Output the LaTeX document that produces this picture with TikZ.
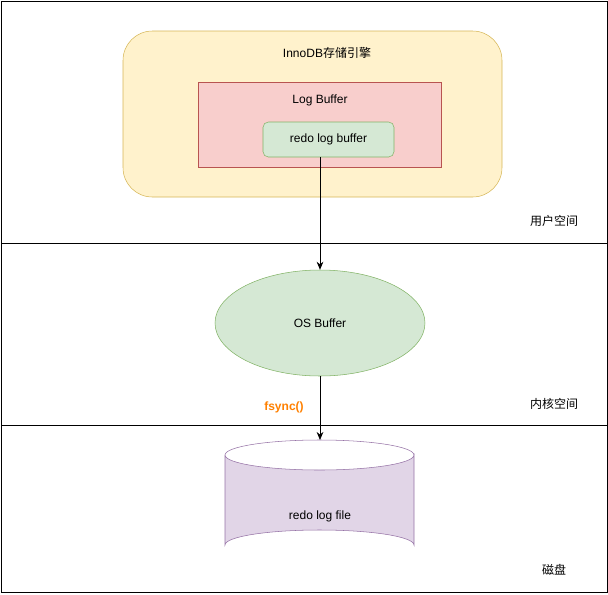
\documentclass[tikz,border=0pt]{standalone}
\usepackage{fontspec}
\setmainfont{Liberation Sans}
\newfontfamily\cjk{Noto Sans CJK SC}
\usetikzlibrary{shapes.geometric,arrows.meta}
\definecolor{yf}{HTML}{FFF2CC}\definecolor{ys}{HTML}{D6B656}
\definecolor{rf}{HTML}{F8CECC}\definecolor{rs}{HTML}{B85450}
\definecolor{gf}{HTML}{D5E8D4}\definecolor{gs}{HTML}{82B366}
\definecolor{pf}{HTML}{E1D5E7}\definecolor{ps}{HTML}{9673A6}
\definecolor{og}{HTML}{FF8000}
\tikzset{lbl/.style={font=\fontsize{9}{11}\selectfont},
arr/.style={-{Stealth[length=6pt,width=5pt]},line width=0.6pt}}
\begin{document}
\begin{tikzpicture}[x=0.75pt,y=-0.75pt]
\useasboundingbox (0,0) rectangle (608,594);
\draw[line width=0.6pt] (1,1) rectangle (607,592);
\draw[line width=0.6pt] (1,243) -- (607,243) (1,425) -- (607,425);
\draw[fill=yf,draw=ys,rounded corners=22pt] (123,31) rectangle (502,197);
\node[lbl] (inno) at (327,53) {InnoDB{\cjk 存储引擎}};
\draw[fill=rf,draw=rs] (198,82) rectangle (441,167);
\node[lbl] (lb) at (320,100) {Log Buffer};
\node[lbl,draw=gs,fill=gf,rounded corners=4pt,minimum width=131*0.75pt,minimum height=35*0.75pt] (rlb) at (328.5,139.5) {redo log buffer};
\node[lbl,ellipse,draw=gs,fill=gf,minimum width=210*0.75pt,minimum height=106*0.75pt,inner sep=0] (os) at (320,323) {OS Buffer};
\draw[fill=pf,draw=ps] (225,455) -- (225,545) arc[start angle=180,end angle=360,x radius=94.5,y radius=15] -- (414,455) arc[start angle=0,end angle=180,x radius=94.5,y radius=15];
\draw[draw=ps] (225,455) arc[start angle=180,end angle=360,x radius=94.5,y radius=15];
\coordinate (cyltop) at (320,440);
\node[lbl] (file) at (320,516) {redo log file};
\draw[arr] (320,157) -- (os.north);
\draw[arr] (os.south) -- (cyltop);
\node[lbl,text=og,font=\fontsize{9}{11}\selectfont\bfseries] (fs) at (284,407) {fsync()};
\node[lbl] (u) at (554,221) {\cjk 用户空间};
\node[lbl] (k) at (554,404) {\cjk 内核空间};
\node[lbl] (d) at (554,570) {\cjk 磁盘};
\end{tikzpicture}
\end{document}
